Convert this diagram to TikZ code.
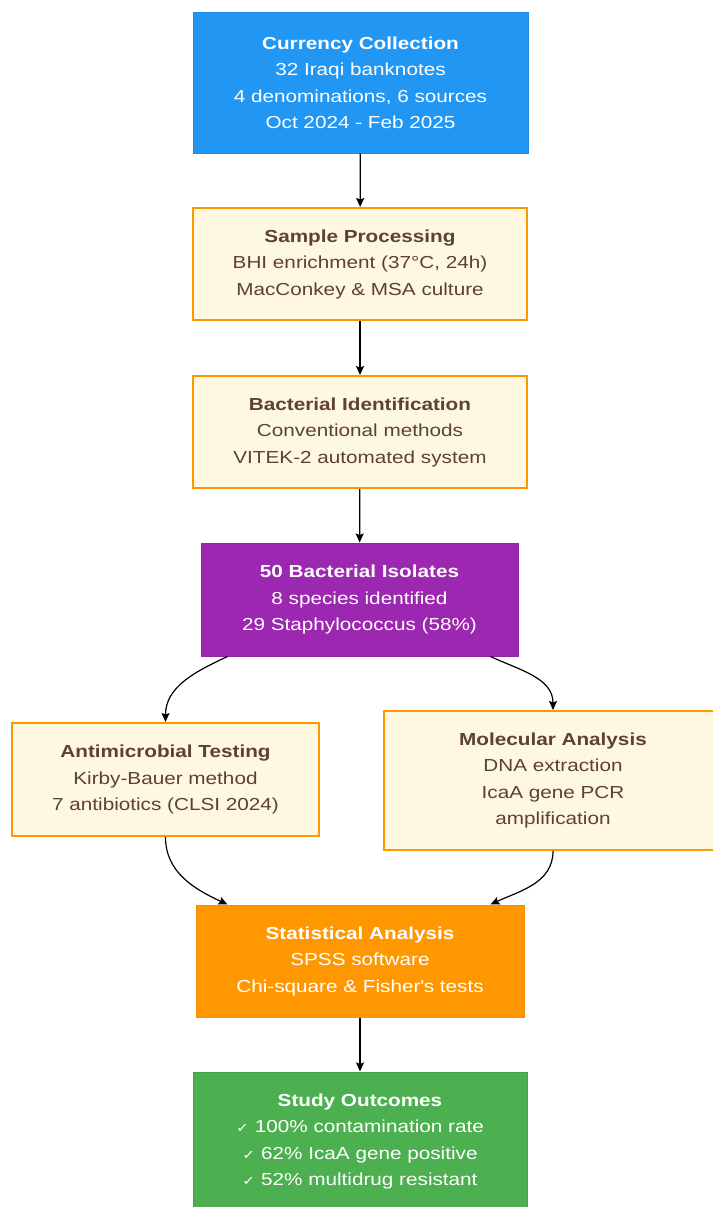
\documentclass[tikz,border=0pt]{standalone}
\usepackage{fontspec}
\setmainfont{Liberation Sans}[FakeStretch=1.19]
\newfontfamily\symfont{DejaVu Sans}[FakeStretch=1.19]
\usetikzlibrary{arrows.meta}

\definecolor{collblue}{HTML}{2196F3}
\definecolor{collline}{HTML}{1E88E5}
\definecolor{creamfill}{HTML}{FFF8E1}
\definecolor{creamline}{HTML}{FF9800}
\definecolor{browntext}{HTML}{5D4037}
\definecolor{isopurple}{HTML}{9C27B0}
\definecolor{isoline}{HTML}{8E24AA}
\definecolor{statorange}{HTML}{FF9800}
\definecolor{statline}{HTML}{FB8C00}
\definecolor{outgreen}{HTML}{4CAF50}
\definecolor{outline}{HTML}{43A047}

\newcommand{\tick}{{\symfont\fontsize{13}{26.5}\selectfont ✓}}

\begin{document}
\begin{tikzpicture}[x=1pt,y=-1pt,
	box/.style={shape=rectangle,draw,align=center,inner sep=0pt,font=\fontsize{17.4}{26.5}\selectfont},
	lightbox/.style={box,fill=creamfill,draw=creamline,line width=2pt,text=browntext},
	darkbox/.style={box,text=white,line width=1pt},
	flow/.style={-{Stealth[length=9pt,width=8pt,inset=1.5pt]},line width=1.2pt}]
	
	\useasboundingbox (0,0) rectangle (712,1207);
	
	\node[darkbox,fill=collblue,draw=collline,minimum width=335pt,minimum height=140pt] (coll) at (360.5,83)
		{\textbf{Currency Collection}\\32 Iraqi banknotes\\4 denominations, 6 sources\\Oct 2024 - Feb 2025};
	\node[lightbox,minimum width=334pt,minimum height=112pt] (proc) at (360,264)
		{\textbf{Sample Processing}\\BHI enrichment (37°C, 24h)\\MacConkey \& MSA culture};
	\node[lightbox,minimum width=334pt,minimum height=112pt] (ident) at (360,432)
		{\textbf{Bacterial Identification}\\Conventional methods\\VITEK-2 automated system};
	\node[darkbox,fill=isopurple,draw=isoline,minimum width=317pt,minimum height=113pt] (iso) at (359.5,599.5)
		{\textbf{50 Bacterial Isolates}\\8 species identified\\29 Staphylococcus (58\%)};
	\node[lightbox,minimum width=307pt,minimum height=113pt] (amr) at (165.5,779.5)
		{\textbf{Antimicrobial Testing}\\Kirby-Bauer method\\7 antibiotics (CLSI 2024)};
	\node[lightbox,minimum width=338pt,minimum height=139pt] (mol) at (553,780.5)
		{\textbf{Molecular Analysis}\\DNA extraction\\IcaA gene PCR\\amplification};
	\node[darkbox,fill=statorange,draw=statline,minimum width=328pt,minimum height=112pt] (stat) at (360,961)
		{\textbf{Statistical Analysis}\\SPSS software\\Chi-square \& Fisher\textquotesingle s tests};
	\node[darkbox,fill=outgreen,draw=outline,minimum width=334pt,minimum height=139pt] (out) at (360,1141.5)
		{\textbf{Study Outcomes}\\\tick{} 100\% contamination rate\\\tick{} 62\% IcaA gene positive\\\tick{} 52\% multidrug resistant};
	
	\path[flow] (coll) edge (proc);
	\path[flow] (proc) edge (ident);
	\path[flow] (ident) edge (iso);
	\draw[flow] ([xshift=27pt]iso.south west) to[out=205,in=90] (amr.north);
	\draw[flow] ([xshift=-28pt]iso.south east) to[out=-25,in=90] (mol.north);
	\draw[flow] (amr.south) to[out=-90,in=155] ([xshift=32pt]stat.north west);
	\draw[flow] (mol.south) to[out=-90,in=25] ([xshift=-34pt]stat.north east);
	\path[flow] (stat) edge (out);
	\end{tikzpicture}
\end{document}
